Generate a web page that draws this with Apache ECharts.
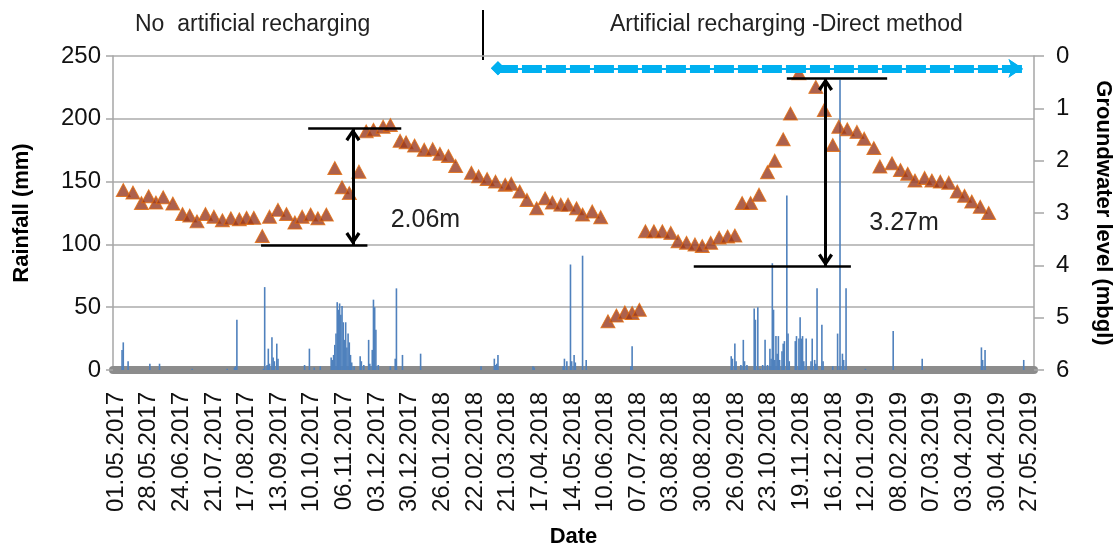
<!DOCTYPE html>
<html>
<head>
<meta charset="utf-8">
<script src="https://cdn.jsdelivr.net/npm/echarts@6/dist/echarts.min.js"></script>
<style>
html,body{margin:0;padding:0;background:#fff;}
#chart{width:1116px;height:551px;}
</style>
</head>
<body>
<div id="chart"></div>
<script>
// ---------------- DATA ----------------
// Daily record, first day of the axis = 29.04.2017, 762 days.
const startYear = 2017, startMonth = 4, startDay = 29;
const nDays = 762;
// Tick labels shown every 27 days starting at 01.05.2017 (day index 2)
const labelFirstIndex = 2;
const labelStep = 27;

// Daily rainfall (mm): [day index, mm] (days not listed = 0)
const rainfall = [
  [7,16],[8,22],[12,7],[30,5],[38,5],[65,1],[94,1],[100,2],[101,3],[102,40],
  [124,1],[125,66],[127,4],[128,17],[129,5],[131,26],[132,10],[133,7],[135,21],[136,9],
  [158,4],[162,17],[166,2],[171,3],
  [180,10],[181,8],[182,12],[183,20],[184,29],[185,54],[186,48],[187,53],[188,44],[189,51],
  [190,38],[191,24],[192,38],[193,18],[194,29],[195,22],[196,12],[197,6],
  [199,3],[204,11],[205,7],[207,4],[211,24],[212,5],[214,16],[215,56],[216,50],[217,32],[219,4],
  [229,3],[233,9],[234,65],[239,12],[254,13],[304,3],[315,9],[316,4],[317,5],[318,12],
  [347,3],[348,2],[372,3],[373,9],[375,7],[378,84],[379,7],[381,12],[382,6],[388,91],[391,8],
  [428,3],[429,19],
  [511,11],[512,9],[514,21],[515,7],[519,4],[521,24],[522,7],[524,4],[530,49],[531,40],[533,50],
  [535,1],[537,4],[539,24],[541,4],[543,17],[544,9],[545,85],[546,48],[547,8],[548,27],[549,13],
  [550,27],[551,8],[553,15],[554,21],[555,23],[557,139],[558,29],[559,7],[564,23],[565,27],
  [567,25],[568,42],[569,25],[570,27],[571,7],[573,25],[577,7],[578,25],[580,8],[581,5],[582,65],
  [586,36],[587,7],[595,3],[599,29],[601,231],[603,13],[604,8],[606,65],[622,1],[645,31],
  [669,9],[718,18],[719,8],[721,16],[753,8]
];

// Groundwater level (m bgl): [day index, level]
const groundwater = [
  [8,2.56],[16,2.61],[23,2.81],[29,2.68],[35,2.80],[41,2.70],[49,2.82],[57,3.02],[63,3.05],[69,3.16],
  [76,3.02],[83,3.07],[90,3.14],[97,3.10],[104,3.12],[110,3.09],[116,3.09],[123,3.44],[129,3.07],[136,2.94],
  [143,3.02],[150,3.18],[156,3.07],[163,3.03],[169,3.10],[176,3.03],[183,2.14],[189,2.51],[195,2.62],[203,2.21],
  [209,1.44],[215,1.41],[223,1.35],[229,1.32],[237,1.62],[242,1.65],[249,1.71],[257,1.79],[264,1.78],[270,1.87],
  [277,1.91],[283,2.10],[296,2.23],[302,2.30],[309,2.35],[316,2.40],[324,2.46],[329,2.44],[336,2.59],[342,2.75],
  [350,2.91],[357,2.72],[363,2.80],[370,2.84],[376,2.84],[383,2.91],[388,3.03],[396,2.97],[403,3.08],
  [409,5.07],[416,4.96],[423,4.90],[429,4.91],[435,4.85],
  [440,3.35],[447,3.35],[454,3.35],[461,3.38],[467,3.54],[474,3.57],[481,3.60],[487,3.63],[494,3.57],[501,3.47],
  [508,3.45],[514,3.43],[520,2.81],[527,2.81],[534,2.65],[541,2.22],[547,2.00],[554,1.59],[560,1.10],[567,0.33],
  [581,0.59],[588,1.03],[595,1.70],[600,1.35],[607,1.40],[615,1.45],[621,1.58],[629,1.76],[634,2.11],[644,2.05],
  [651,2.18],[657,2.25],[663,2.38],[671,2.33],[677,2.38],[684,2.40],[691,2.42],[698,2.59],[704,2.67],[710,2.78],
  [717,2.88],[724,3.00]
];

// Annotations (data coordinates: [day index, level])
const rechargeStart = 318, rechargeEnd = 752, rechargeLevel = 0.235;
const bracketA = { topFrom: 161, topTo: 238, top: 1.38, botFrom: 122, botTo: 210, bot: 3.61, x: 198, label: '2.06m', labelAt: [258, 3.13] };
const bracketB = { topFrom: 557, topTo: 640, top: 0.42, botFrom: 480, botTo: 610, bot: 4.02, x: 589, label: '3.27m', labelAt: [654, 3.19] };

const leftTicks = { min: 0, max: 250, interval: 50 };
const rightTicks = { min: 0, max: 6, interval: 1 };

// ---------------- BUILD ----------------
function pad(n){ return (n < 10 ? '0' : '') + n; }
const dates = [];
for (let i = 0; i < nDays; i++) {
  const d = new Date(Date.UTC(startYear, startMonth - 1, startDay + i));
  dates.push(pad(d.getUTCDate()) + '.' + pad(d.getUTCMonth() + 1) + '.' + d.getUTCFullYear());
}
const rainSeries = new Array(nDays).fill(0);
rainfall.forEach(([d, v]) => { rainSeries[d] = v; });
const gwSeries = groundwater.map(([d, v]) => [dates[d], v]);

const FONT = 'Liberation Sans, Arial, sans-serif';
const chevron = 'path://M5,0 L10,8.4 L8.2,10 L5,4.2 L1.8,10 L0,8.4 Z';

function bracketLines(b) {
  const ls = { color: '#000', width: 2.5, type: 'solid' };
  return [
    [{ coord: [dates[b.topFrom], b.top], lineStyle: ls }, { coord: [dates[b.topTo], b.top] }],
    [{ coord: [dates[b.botFrom], b.bot], lineStyle: ls }, { coord: [dates[b.botTo], b.bot] }],
    [{ coord: [dates[b.x], b.top], lineStyle: { color: '#000', width: 3, type: 'solid' } }, { coord: [dates[b.x], b.bot] }]
  ];
}
function bracketPoints(b) {
  return [
    { coord: [dates[b.x], b.top], symbol: chevron, symbolSize: [15, 13], symbolOffset: [0, '50%'], itemStyle: { color: '#000' }, label: { show: false } },
    { coord: [dates[b.x], b.bot], symbol: chevron, symbolSize: [15, 13], symbolRotate: 180, symbolOffset: [0, '-50%'], itemStyle: { color: '#000' }, label: { show: false } },
    { coord: [dates[b.labelAt[0]], b.labelAt[1]], symbol: 'circle', symbolSize: 1, itemStyle: { color: 'rgba(0,0,0,0)' },
      label: { show: true, position: 'inside', formatter: b.label, fontSize: 25, color: '#222', fontFamily: FONT } }
  ];
}

const chart = echarts.init(document.getElementById('chart'), null, { renderer: 'canvas' });
chart.setOption({
  animation: false,
  backgroundColor: '#fff',
  textStyle: { fontFamily: FONT },
  grid: { left: 113, right: 82, top: 56, bottom: 181, containLabel: false, outerBoundsMode: 'none' },
  graphic: [
    { type: 'text', left: 135, top: 13, style: { text: 'No  artificial recharging', font: '23px ' + FONT, fill: '#222' } },
    { type: 'text', left: 610, top: 13, style: { text: 'Artificial recharging -Direct method', font: '23px ' + FONT, fill: '#222' } },
    { type: 'line', shape: { x1: 483, y1: 10, x2: 483, y2: 60 }, style: { stroke: '#000', lineWidth: 2 } }
  ],
  xAxis: {
    type: 'category',
    data: dates,
    boundaryGap: true,
    offset: 4,
    name: 'Date',
    nameLocation: 'middle',
    nameGap: 152,
    nameTextStyle: { fontSize: 22, fontWeight: 'bold', color: '#000', fontFamily: FONT },
    axisLine: { show: true, lineStyle: { color: '#8C8C8C', width: 8 } },
    axisTick: { show: false },
    splitLine: { show: false },
    axisLabel: {
      rotate: 90, fontSize: 24, color: '#111', margin: 18, fontFamily: FONT,
      interval: (i) => i >= labelFirstIndex && (i - labelFirstIndex) % labelStep === 0
    }
  },
  yAxis: [
    {
      type: 'value', min: leftTicks.min, max: leftTicks.max, interval: leftTicks.interval,
      name: 'Rainfall (mm)', nameLocation: 'middle', nameGap: 80,
      nameTextStyle: { fontSize: 22, fontWeight: 'bold', color: '#000', fontFamily: FONT },
      axisLine: { show: true, lineStyle: { color: '#A6A6A6', width: 1.5 } },
      axisTick: { show: true, length: 7, lineStyle: { color: '#A6A6A6', width: 1.5 } },
      splitLine: { show: true, lineStyle: { color: '#ABABAB', width: 1.5 } },
      axisLabel: { fontSize: 24, color: '#111', margin: 12, fontFamily: FONT }
    },
    {
      type: 'value', min: rightTicks.min, max: rightTicks.max, interval: rightTicks.interval, inverse: true,
      position: 'right',
      name: 'Groundwater level (mbgl)', nameLocation: 'middle', nameGap: 58, nameRotate: -90,
      nameTextStyle: { fontSize: 22, fontWeight: 'bold', color: '#000', fontFamily: FONT },
      axisLine: { show: true, lineStyle: { color: '#A6A6A6', width: 1.5 } },
      axisTick: { show: true, length: 10, lineStyle: { color: '#A6A6A6', width: 1.5 } },
      splitLine: { show: false },
      axisLabel: { fontSize: 24, color: '#111', margin: 22, fontFamily: FONT }
    }
  ],
  series: [
    {
      name: 'Rainfall', type: 'bar', yAxisIndex: 0, data: rainSeries,
      barWidth: 1.6, itemStyle: { color: '#4F81BD' }, z: 2, silent: true
    },
    {
      name: 'Groundwater level', type: 'scatter', yAxisIndex: 1, data: gwSeries,
      symbol: 'triangle', symbolSize: [14, 13],
      itemStyle: { color: '#983A21', borderColor: '#E46C0A', borderWidth: 1 }, z: 3
    },
    {
      name: 'annotA', type: 'scatter', yAxisIndex: 1, data: [], z: 5,
      markLine: { silent: true, z: 8, symbol: ['none', 'none'], label: { show: false }, animation: false,
        data: bracketLines(bracketA).concat(bracketLines(bracketB)) },
      markPoint: { silent: true, z: 8, animation: false, data: bracketPoints(bracketA).concat(bracketPoints(bracketB)) }
    },
    {
      name: 'recharge', type: 'scatter', yAxisIndex: 1, data: [], z: 6,
      markLine: { silent: true, z: 10, symbol: ['diamond', 'arrow'], symbolSize: [14, 14], label: { show: false }, animation: false,
        data: [
          [{ coord: [dates[rechargeStart], rechargeLevel], lineStyle: { color: '#00B0F0', width: 8, type: [20, 4], cap: 'butt' }, itemStyle: { color: '#00B0F0' } },
           { coord: [dates[rechargeEnd], rechargeLevel] }],
          [{ coord: [dates[rechargeStart], rechargeLevel], lineStyle: { color: '#00B0F0', width: 2, type: 'solid' }, itemStyle: { color: '#00B0F0' } },
           { coord: [dates[rechargeEnd], rechargeLevel] }]
        ] }
    }
  ]
});
</script>
</body>
</html>
